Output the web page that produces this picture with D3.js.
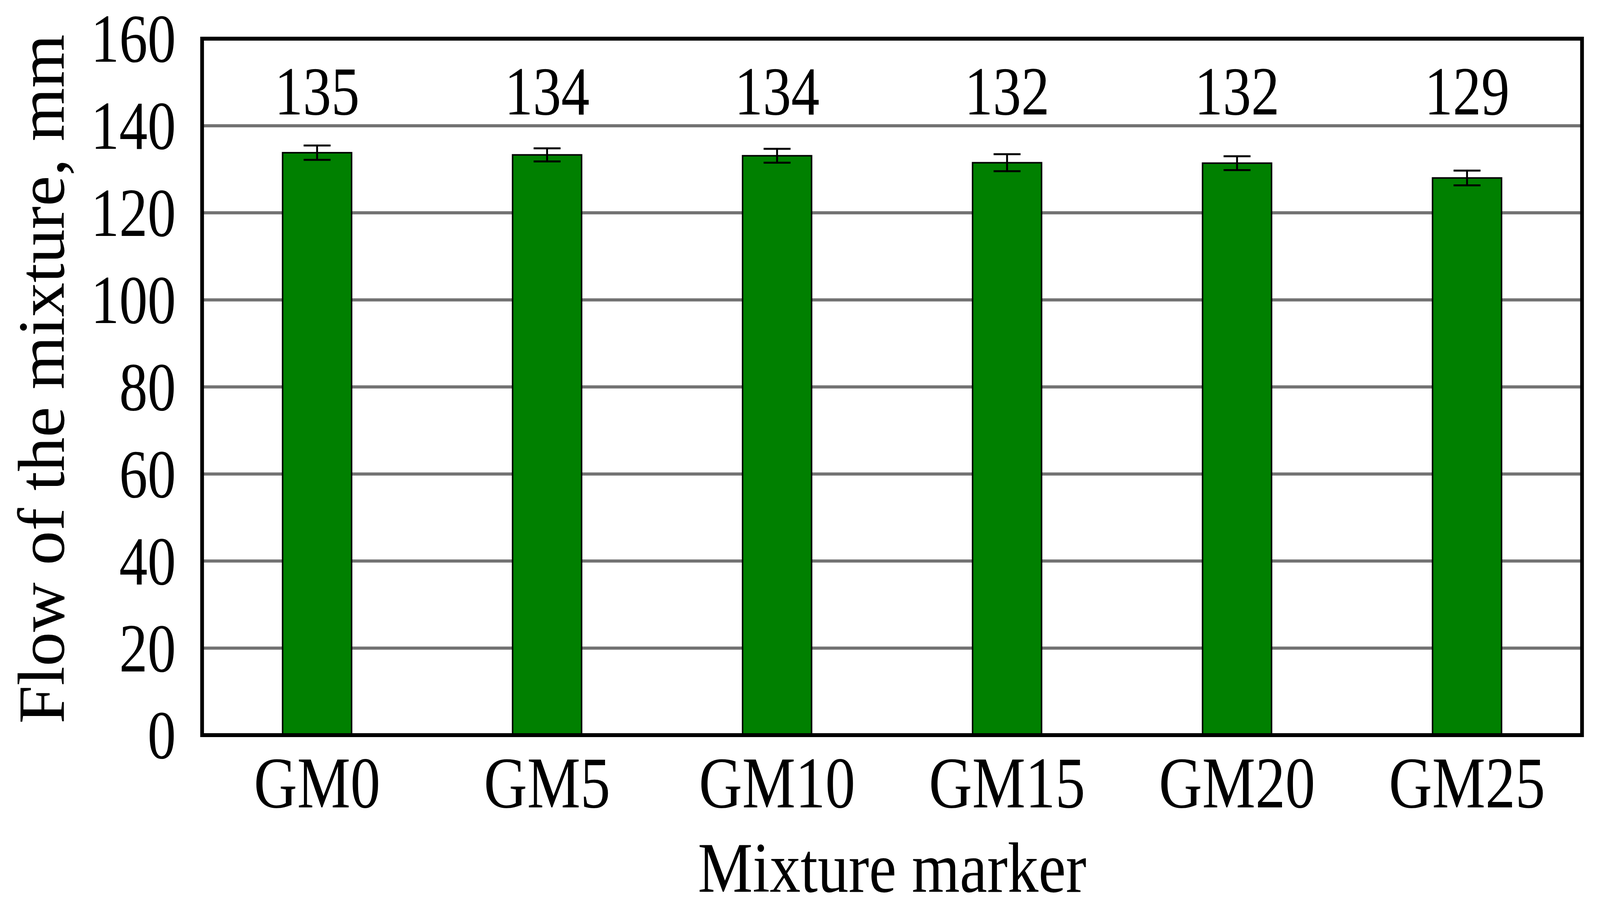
<!DOCTYPE html>
<html>
<head>
<meta charset="utf-8">
<script src="https://cdn.jsdelivr.net/npm/d3@7"></script>
<style>
  html, body { margin: 0; padding: 0; background: #fff; overflow: hidden; }
  svg { display: block; width: 100vw; height: 100vh; }
  text { font-family: "Liberation Serif", "Times New Roman", serif; fill: #000; }
</style>
</head>
<body>
<div id="chart"></div>
<script>
// data
const markers = ["GM0", "GM5", "GM10", "GM15", "GM20", "GM25"];
const flow = [133.8, 133.3, 133.1, 131.5, 131.4, 128.0];
const flowError = [1.65, 1.5, 1.6, 1.95, 1.6, 1.7];
const flowLabels = ["135", "134", "134", "132", "132", "129"];
const yTicks = [0, 20, 40, 60, 80, 100, 120, 140, 160];

const W = 4275, H = 2322;
const margin = { top: 99, right: 48, bottom: 440, left: 540 };
const width = W - margin.left - margin.right;
const height = H - margin.top - margin.bottom;
const squeeze = 0.86; // the lettering in the picture is narrow

const svg = d3.select("#chart")
    .append("svg")
    .attr("viewBox", `0 0 ${W} ${H}`)
    .attr("preserveAspectRatio", "none")
    .append("g")
    .attr("transform", `translate(${margin.left},${margin.top})`);

const x = d3.scaleBand()
    .domain(markers)
    .range([0, width])
    .paddingInner(0.7)
    .paddingOuter(0.35);

const y = d3.scaleLinear()
    .domain([0, 160])
    .range([height, 0]);

// gridlines
svg.append("g")
    .selectAll("line")
    .data(yTicks.filter(d => d > 0 && d < 160))
    .enter()
    .append("line")
    .attr("x1", 0)
    .attr("x2", width)
    .attr("y1", d => y(d))
    .attr("y2", d => y(d))
    .attr("stroke", "#727272")
    .attr("stroke-width", 8);

// bars
svg.selectAll(".bar")
    .data(markers)
    .enter()
    .append("rect")
    .attr("class", "bar")
    .attr("x", d => x(d))
    .attr("y", (d, i) => y(flow[i]))
    .attr("width", x.bandwidth())
    .attr("height", (d, i) => height - y(flow[i]))
    .attr("fill", "#008000")
    .attr("stroke", "#000")
    .attr("stroke-width", 4);

// error bars
const cap = 36;
const err = svg.selectAll(".err")
    .data(markers)
    .enter()
    .append("g")
    .attr("class", "err")
    .attr("stroke", "#000")
    .attr("stroke-width", 5);

err.append("line")
    .attr("x1", d => x(d) + x.bandwidth() / 2)
    .attr("x2", d => x(d) + x.bandwidth() / 2)
    .attr("y1", (d, i) => y(flow[i] + flowError[i]))
    .attr("y2", (d, i) => y(flow[i] - flowError[i]));

[1, -1].forEach(s => {
    err.append("line")
        .attr("x1", d => x(d) + x.bandwidth() / 2 - cap)
        .attr("x2", d => x(d) + x.bandwidth() / 2 + cap)
        .attr("y1", (d, i) => y(flow[i] + s * flowError[i]))
        .attr("y2", (d, i) => y(flow[i] + s * flowError[i]));
});

// value labels sit in a row near the top
svg.selectAll(".val")
    .data(markers)
    .enter()
    .append("text")
    .attr("class", "val")
    .attr("transform", d => `translate(${x(d) + x.bandwidth() / 2},${y(142.6)}) scale(${squeeze},1)`)
    .attr("text-anchor", "middle")
    .attr("font-size", "176px")
    .text((d, i) => flowLabels[i]);

// frame
svg.append("rect")
    .attr("x", 0)
    .attr("y", 0)
    .attr("width", width)
    .attr("height", height)
    .attr("fill", "none")
    .attr("stroke", "#000")
    .attr("stroke-width", 10);

// y tick labels
svg.append("g")
    .selectAll("text")
    .data(yTicks)
    .enter()
    .append("text")
    .attr("transform", d => `translate(-70,${y(d)}) scale(${squeeze},1)`)
    .attr("text-anchor", "end")
    .attr("dominant-baseline", "central")
    .attr("font-size", "176px")
    .text(d => d);

// x tick labels
svg.append("g")
    .selectAll("text")
    .data(markers)
    .enter()
    .append("text")
    .attr("transform", d => `translate(${x(d) + x.bandwidth() / 2},${height + 185}) scale(${squeeze},1)`)
    .attr("text-anchor", "middle")
    .attr("font-size", "186px")
    .text(d => d);

// axis titles
svg.append("text")
    .attr("transform", `translate(${width / 2},${height + 401}) scale(0.9,1)`)
    .attr("text-anchor", "middle")
    .attr("font-size", "183px")
    .text("Mixture marker");

svg.append("text")
    .attr("transform", `translate(${-370},${height / 2 - 20}) rotate(-90)`)
    .attr("text-anchor", "middle")
    .attr("font-size", "176px")
    .text("Flow of the mixture, mm");
</script>
</body>
</html>
